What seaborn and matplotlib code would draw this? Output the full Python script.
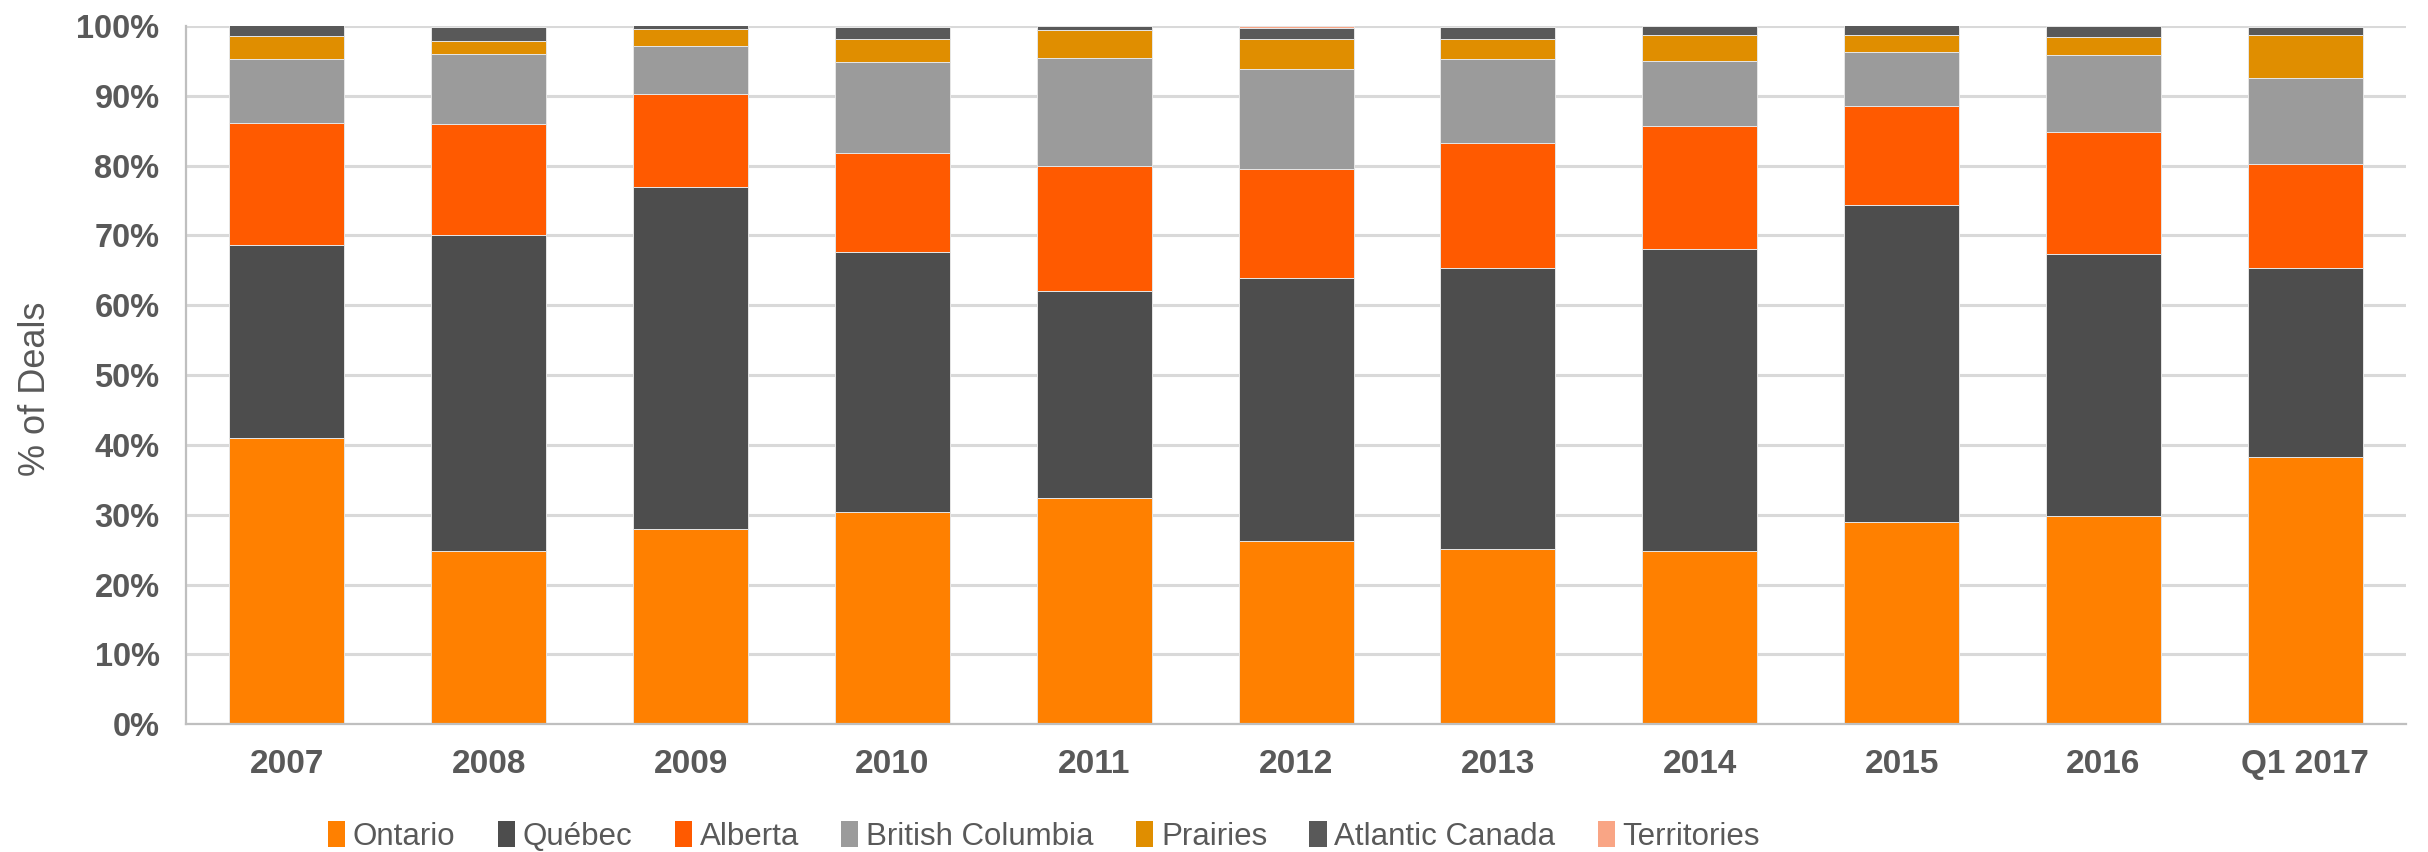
import matplotlib
matplotlib.use("Agg")
import matplotlib.pyplot as plt
from matplotlib.patches import Patch
from matplotlib.ticker import PercentFormatter, MultipleLocator
import seaborn as sns
import pandas as pd

# Share of deals by region, per period (%)
periods = ["2007", "2008", "2009", "2010", "2011", "2012",
           "2013", "2014", "2015", "2016", "Q1 2017"]
ontario = [41.0, 24.8, 27.9, 30.4, 32.4, 26.2, 25.1, 24.8, 29.0, 29.8, 38.2]
quebec = [27.7, 45.3, 49.1, 37.2, 29.7, 37.7, 40.3, 43.3, 45.3, 37.6, 27.2]
alberta = [17.4, 15.9, 13.3, 14.2, 17.9, 15.6, 17.9, 17.6, 14.2, 17.4, 14.8]
british_columbia = [9.2, 10.0, 6.9, 13.1, 15.4, 14.3, 12.0, 9.3, 7.8, 11.0, 12.3]
prairies = [3.2, 1.8, 2.3, 3.3, 4.0, 4.4, 2.9, 3.7, 2.4, 2.6, 6.2]
atlantic = [1.6, 2.1, 0.6, 1.7, 0.6, 1.5, 1.7, 1.3, 1.4, 1.6, 1.2]
territories = [0.0, 0.0, 0.0, 0.0, 0.0, 0.3, 0.0, 0.0, 0.0, 0.0, 0.0]

regions = ["Ontario", "Québec", "Alberta", "British Columbia",
           "Prairies", "Atlantic Canada", "Territories"]
series = [ontario, quebec, alberta, british_columbia, prairies, atlantic, territories]
colors = ["#FF8000", "#4D4D4D", "#FF5A00", "#9B9B9B",
          "#E08E00", "#595959", "#F9A585"]

rows = []
for region, vals in zip(regions, series):
    for p, v in zip(periods, vals):
        rows.append({"period": p, "region": region, "share": v})
df = pd.DataFrame(rows)
df["period"] = pd.Categorical(df["period"], categories=periods, ordered=True)

sns.set_theme(style="white")
plt.rcParams["font.family"] = ["Liberation Sans", "DejaVu Sans"]
text_color = "#595959"

fig = plt.figure(figsize=(24.28, 8.52), dpi=100)
ax = fig.add_axes([0.0766, 0.150, 0.9144, 0.8195])

palette = dict(zip(regions, colors))
# histplot stacks the last hue level at the bottom
sns.histplot(data=df, x="period", weights="share", hue="region",
             hue_order=regions[::-1], palette=palette, multiple="stack",
             discrete=True, shrink=0.57, alpha=1, edgecolor="#E6E6E6",
             linewidth=0.7, legend=False, ax=ax)

ax.set_ylim(0, 100)
ax.set_xlim(-0.5, len(periods) - 0.5)
ax.yaxis.set_major_locator(MultipleLocator(10))
ax.yaxis.set_major_formatter(PercentFormatter(decimals=0))
ax.set_xticks(range(len(periods)))
ax.set_xticklabels(periods)
ax.grid(axis="y", color="#D9D9D9", linewidth=2.2, zorder=0)
ax.set_axisbelow(True)

for side in ["top", "right"]:
    ax.spines[side].set_visible(False)
for side in ["left", "bottom"]:
    ax.spines[side].set_color("#BFBFBF")
    ax.spines[side].set_linewidth(1.6)

ax.tick_params(axis="both", length=0, labelcolor=text_color)
ax.tick_params(axis="x", pad=18, labelsize=24)
ax.tick_params(axis="y", pad=19, labelsize=23.5)
for lbl in ax.get_xticklabels() + ax.get_yticklabels():
    lbl.set_fontweight("bold")

ax.set_xlabel("")
ax.set_ylabel("% of Deals", fontsize=26, color=text_color)
ax.yaxis.set_label_coords(-0.060, 0.48)

handles = [Patch(facecolor=c, edgecolor="none") for c in colors]
fig.legend(handles, regions, loc="center", bbox_to_anchor=(0.43, 0.018),
           ncol=len(regions), frameon=False, fontsize=22.5,
           labelcolor=text_color, handlelength=0.55, handleheight=0.9,
           handletextpad=0.25, columnspacing=1.35)

fig.savefig("out.png", dpi=100)
